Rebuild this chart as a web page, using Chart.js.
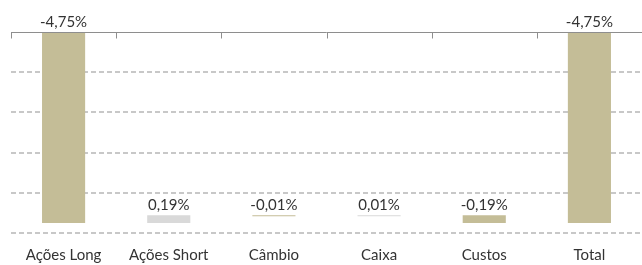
<!DOCTYPE html>
<html><head><meta charset="utf-8">
<script src="https://cdn.jsdelivr.net/npm/chart.js@4/dist/chart.umd.min.js"></script>
<style>html,body{margin:0;padding:0;background:#fff}#wrap{width:642px;height:265px;position:relative}</style>
</head><body><div id="wrap"><canvas id="c"></canvas></div>
<script>
const categories = ["Ações Long","Ações Short","Câmbio","Caixa","Custos","Total"];
const values = [-4.75, 0.19, -0.01, 0.01, -0.19, -4.75];
const isTotal = [false,false,false,false,false,true];
const yMin = -5, yMax = 0, yStep = 1;

const TAN = '#c4bd97', GRAY = '#d9d9d9';
const ranges = []; let run = 0;
values.forEach((v,i)=>{
  if (isTotal[i]) ranges.push([0, v]);
  else { ranges.push([run, run + v]); run += v; }
});
const colors = values.map(v => v < 0 ? TAN : GRAY);
const fmt = v => v.toFixed(2).replace('.', ',') + '%';
const FONT = 'Lato, "Open Sans", sans-serif';

const topAxis = {
  id: 'topAxis',
  afterDatasetsDraw(chart) {
    const {ctx, chartArea, scales} = chart;
    const x = scales.x, y = scales.y;
    const y0 = Math.round(y.getPixelForValue(0)) + 0.5;
    ctx.save();
    ctx.strokeStyle = '#8e8e8e'; ctx.lineWidth = 1;
    ctx.beginPath();
    ctx.moveTo(chartArea.left, y0); ctx.lineTo(chartArea.right, y0);
    const w = (x.getPixelForValue(1) - x.getPixelForValue(0));
    for (let i = 0; i < categories.length; i++) {
      const bx = Math.round(x.getPixelForValue(i) - w/2) + 0.5;
      ctx.moveTo(bx, y0); ctx.lineTo(bx, y0 + 6);
    }
    ctx.stroke();
    ctx.fillStyle = '#333333';
    ctx.font = '15px ' + FONT;
    ctx.textAlign = 'center'; ctx.textBaseline = 'bottom';
    const meta = chart.getDatasetMeta(0);
    meta.data.forEach((el, i) => {
      const top = Math.min(el.y, el.base);
      ctx.fillText(fmt(values[i]), el.x, top - 3);
    });
    ctx.restore();
  }
};

new Chart(document.getElementById('c'), {
  type: 'bar',
  data: { labels: categories, datasets: [{ data: ranges, backgroundColor: colors, borderWidth: 0, minBarLength: 1, barPercentage: 0.41, categoryPercentage: 1 }] },
  options: {
    responsive: true, maintainAspectRatio: false, animation: false,
    layout: { padding: { top: 32, left: 11, right: 0, bottom: 0 } },
    plugins: { legend: { display: false }, tooltip: { enabled: false } },
    scales: {
      x: {
        grid: { display: false, drawTicks: false }, border: { display: false },
        ticks: { color: '#333333', font: { family: FONT, size: 15 }, padding: 13, maxRotation: 0 },
        afterFit: s => { s.height = 32; }
      },
      y: {
        min: yMin, max: yMax,
        ticks: { display: false, stepSize: yStep },
        border: { display: false, dash: [5, 3] },
        grid: { color: c => c.tick.value === 0 ? 'rgba(0,0,0,0)' : '#c8c8c8', lineWidth: 2, drawTicks: false },
        afterFit: s => { s.width = 0; }
      }
    }
  },
  plugins: [topAxis]
});
</script></body></html>
